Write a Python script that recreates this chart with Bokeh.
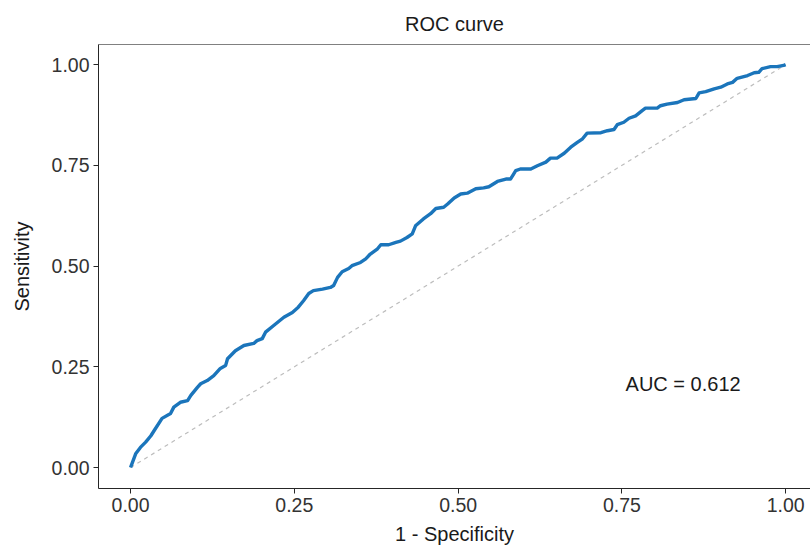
from bokeh.plotting import figure
from bokeh.models import LinearAxis, FixedTicker, NumeralTickFormatter, Range1d
from bokeh.core.properties import value
from bokeh.embed import file_html
from bokeh.resources import INLINE

# ROC curve points
fpr = [0.0, 0.001, 0.008, 0.015, 0.023, 0.031, 0.038, 0.048, 0.061, 0.066, 0.076, 0.087,
       0.092, 0.102, 0.107, 0.117, 0.127, 0.137, 0.145, 0.148, 0.160, 0.173, 0.188, 0.193,
       0.201, 0.206, 0.218, 0.234, 0.247, 0.256, 0.264, 0.272, 0.279, 0.293, 0.305, 0.310,
       0.316, 0.323, 0.333, 0.338, 0.351, 0.359, 0.366, 0.377, 0.382, 0.394, 0.405, 0.412,
       0.422, 0.430, 0.435, 0.447, 0.458, 0.466, 0.478, 0.484, 0.494, 0.504, 0.514, 0.527,
       0.539, 0.547, 0.560, 0.573, 0.580, 0.588, 0.595, 0.611, 0.621, 0.634, 0.641, 0.651,
       0.662, 0.672, 0.682, 0.690, 0.697, 0.718, 0.728, 0.738, 0.743, 0.753, 0.761, 0.771,
       0.781, 0.786, 0.804, 0.809, 0.819, 0.835, 0.845, 0.863, 0.868, 0.878, 0.891, 0.901,
       0.911, 0.919, 0.926, 0.942, 0.952, 0.959, 0.964, 0.977, 0.987, 0.997, 1.0]
tpr = [0.0, 0.005, 0.035, 0.050, 0.063, 0.079, 0.097, 0.122, 0.134, 0.150, 0.162, 0.166,
       0.179, 0.199, 0.208, 0.216, 0.228, 0.246, 0.253, 0.270, 0.290, 0.303, 0.308, 0.315,
       0.320, 0.336, 0.352, 0.373, 0.385, 0.398, 0.414, 0.432, 0.439, 0.443, 0.447, 0.452,
       0.472, 0.486, 0.494, 0.501, 0.509, 0.518, 0.530, 0.543, 0.553, 0.553, 0.559, 0.562,
       0.571, 0.580, 0.600, 0.617, 0.630, 0.643, 0.646, 0.654, 0.669, 0.679, 0.681, 0.692,
       0.694, 0.697, 0.710, 0.716, 0.716, 0.737, 0.741, 0.741, 0.749, 0.758, 0.768, 0.768,
       0.780, 0.795, 0.807, 0.816, 0.830, 0.831, 0.836, 0.839, 0.851, 0.857, 0.867, 0.873,
       0.886, 0.892, 0.892, 0.898, 0.902, 0.906, 0.913, 0.916, 0.930, 0.933, 0.940, 0.944,
       0.952, 0.956, 0.966, 0.973, 0.980, 0.981, 0.990, 0.995, 0.995, 0.998, 1.0]

ref_x = [0.0, 1.0]
ref_y = [0.0, 1.0]
ticks = [0.0, 0.25, 0.5, 0.75, 1.0]
auc_text = "AUC = 0.612"
auc_pos = (0.8435, 0.208)

FONT = "Liberation Sans"

p = figure(frame_width=712, frame_height=444, output_backend="svg", toolbar_location=None,
           x_range=Range1d(-0.049, 1.038), y_range=Range1d(-0.052, 1.05),
           min_border_left=98, min_border_right=0, min_border_top=44, min_border_bottom=58)
p.outline_line_color = None
p.xgrid.visible = False
p.ygrid.visible = False
p.background_fill_color = "white"
p.border_fill_color = "white"

p.title.text = "ROC curve"
p.title.align = "center"
p.title.text_font = FONT
p.title.text_font_size = "20px"
p.title.text_font_style = "normal"
p.title.text_color = "#1a1a1a"
p.title.standoff = 20

for ax in (p.xaxis[0], p.yaxis[0]):
    ax.ticker = FixedTicker(ticks=ticks)
    ax.formatter = NumeralTickFormatter(format="0.00")
    ax.minor_tick_line_color = None
    ax.major_tick_in = 0
    ax.major_tick_out = 5
    ax.axis_line_color = "#262626"
    ax.major_tick_line_color = "#262626"
    ax.major_label_text_font = FONT
    ax.major_label_text_font_size = "19.5px"
    ax.major_label_text_color = "#333333"
    ax.axis_label_text_font = FONT
    ax.axis_label_text_font_size = "20px"
    ax.axis_label_text_font_style = "normal"
    ax.axis_label_text_color = "#1a1a1a"
    ax.major_label_standoff = 4

p.xaxis.axis_label = "1 - Specificity"
p.yaxis.axis_label = "Sensitivity"
p.xaxis.axis_label_standoff = 8
p.yaxis.axis_label_standoff = 16

top = LinearAxis(ticker=FixedTicker(ticks=[]), major_label_text_font_size="0px",
                 axis_line_color="#808080", major_tick_line_color=None,
                 minor_tick_line_color=None, major_tick_out=0, major_label_standoff=0)
p.add_layout(top, "above")

p.line(ref_x, ref_y, line_color="#bdbdbd", line_width=1.2, line_dash="4 4")
p.line(fpr, tpr, line_color="#1b75bb", line_width=3.4, line_join="round")

p.text(x=[auc_pos[0]], y=[auc_pos[1]], text=[auc_text], text_font=value(FONT),
       text_font_size="20px", text_align="center", text_baseline="middle",
       text_color="#1a1a1a")

open("out.html", "w").write(file_html(p, INLINE))
